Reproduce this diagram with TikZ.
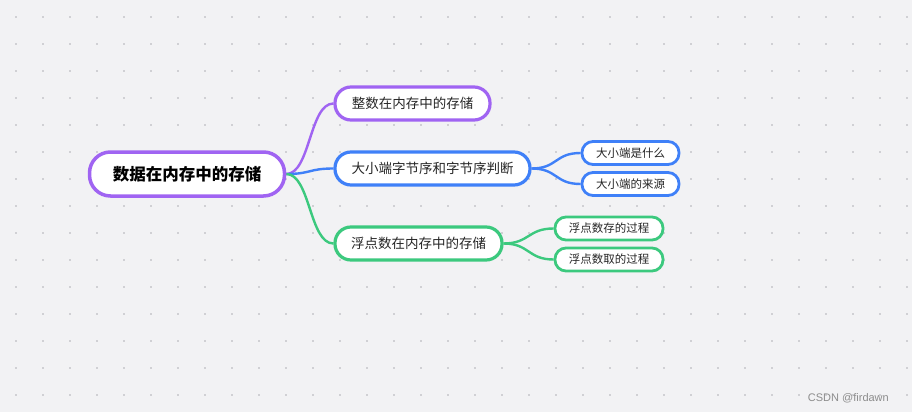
\documentclass[tikz,border=0pt]{standalone}
\usepackage{fontspec}
\setmainfont{Noto Sans CJK SC}
\newfontfamily\markfont{Liberation Sans}
\usepackage{xcolor}
\usepackage{tikz}
\usetikzlibrary{positioning}
\usetikzlibrary{backgrounds}
\definecolor{bgcol}{HTML}{F2F2F4}
\definecolor{dotcol}{HTML}{D0D0D4}
\definecolor{purp}{HTML}{A064F2}
\definecolor{bluec}{HTML}{3F80F8}
\definecolor{greenc}{HTML}{3CC97E}

\begin{document}
\begin{tikzpicture}[x=1pt,y=-1pt,
	topic/.style={draw=#1,line width=3.2pt,fill=white,rounded corners=16pt,minimum height=33pt,inner sep=0pt,font=\fontsize{13.5}{14}\selectfont,text=black!85},
	leaf/.style={draw=#1,line width=2.8pt,fill=white,rounded corners=11pt,minimum height=23pt,inner sep=0pt,font=\fontsize{11.5}{12}\selectfont,text=black!85},
	link/.style={draw=#1,line width=2.4pt}]
	\useasboundingbox (0,0) rectangle (912,412);
	% nodes
	\node[draw=purp,line width=3.5pt,fill=white,rounded corners=21pt,minimum width=195pt,minimum height=44pt,inner sep=0pt,font=\fontsize{16.5}{17}\selectfont\bfseries] (root) at (187,174) {数据在内存中的存储};
	\node[topic=purp,minimum width=155pt] (int) at (412.5,103.5) {整数在内存中的存储};
	\node[topic=bluec,minimum width=195pt] (endian) at (432.5,168.5) {大小端字节序和字节序判断};
	\node[topic=greenc,minimum width=167pt] (float) at (418.5,243.5) {浮点数在内存中的存储};
	\node[leaf=bluec,minimum width=97pt] (what) at (630.5,153) {大小端是什么};
	\node[leaf=bluec,minimum width=97pt] (origin) at (630.5,184) {大小端的来源};
	\node[leaf=greenc,minimum width=108pt] (store) at (609,228.5) {浮点数存的过程};
	\node[leaf=greenc,minimum width=108pt] (load) at (609,259.5) {浮点数取的过程};
	\node[anchor=east,inner sep=0pt,text=black!45,font=\markfont\fontsize{11}{12}\selectfont] (mark) at (889,398) {CSDN @firdawn};
	\begin{scope}[on background layer]
	\fill[bgcol](0,0) rectangle (912,412);
	% dot grid
	\foreach \i in {0,...,33}
		\foreach \j in {0,...,14}
			\fill[dotcol] ({16+27*\i-1},{17+27*\j-1}) rectangle +(2,2);
	% links
	\path[link=purp] (root.east) .. controls +(24,0) and +(-24,0) .. (int.west);
	\path[link=bluec] (root.east) .. controls +(25,0) and +(-25,0) .. (endian.west);
	\path[link=greenc] (root.east) .. controls +(24,0) and +(-24,0) .. (float.west);
	\path[link=bluec] (endian.east) .. controls +(26,0) and +(-26,0) .. (what.west);
	\path[link=bluec] (endian.east) .. controls +(26,0) and +(-26,0) .. (origin.west);
	\path[link=greenc] (float.east) .. controls +(26,0) and +(-26,0) .. (store.west);
	\path[link=greenc] (float.east) .. controls +(26,0) and +(-26,0) .. (load.west);
	\end{scope}
\end{tikzpicture}
\end{document}
